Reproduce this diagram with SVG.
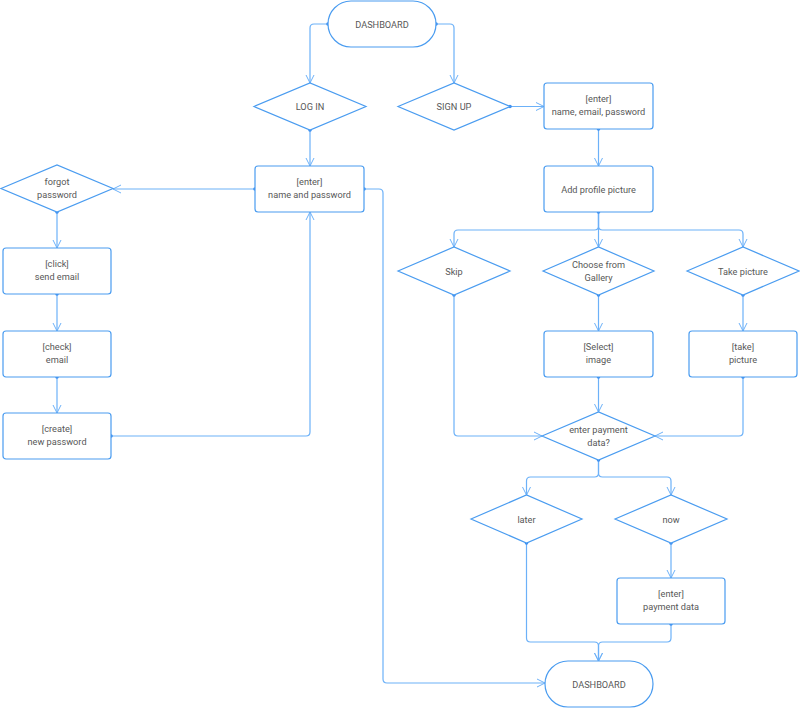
<svg xmlns="http://www.w3.org/2000/svg" width="800" height="708" viewBox="0 0 800 708">
<style>
.n{fill:#fff;stroke:#4a9cf0;stroke-width:1.2}
.t{font-family:Roboto,"Liberation Sans",sans-serif;font-size:9.2px;fill:#585858;text-anchor:middle}
.c{fill:none;stroke:#6cb1f8;stroke-width:1.2;marker-end:url(#a)}
.d{fill:#3d8ef0}
</style>
<defs>
<marker id="a" viewBox="0 0 10 10" refX="10" refY="5" markerWidth="10" markerHeight="10" markerUnits="userSpaceOnUse" orient="auto">
<path d="M2,1 L10,5 L2,9" fill="none" stroke="#6cb1f8" stroke-width="1"/>
</marker>
</defs>
<rect width="800" height="708" fill="#fff"/>
<g id="connectors">
<path class="c" d="M328,24 H314 Q310,24 310,28 V83"/>
<path class="c" d="M436,24 H450 Q454,24 454,28 V83"/>
<path class="c" d="M510,106.5 H544"/>
<path class="c" d="M310,130 V166"/>
<path class="c" d="M598.5,129 V166"/>
<path class="c" d="M255,189 H113"/>
<path class="c" d="M57,212 V248"/>
<path class="c" d="M57,294 V331"/>
<path class="c" d="M57,377 V413"/>
<path class="c" d="M111,436 H306 Q310,436 310,432 V212"/>
<path class="c" d="M364,189 H379 Q383,189 383,193 V679 Q383,683 387,683 H545"/>
<path class="c" d="M598.5,212 V247"/>
<path class="c" d="M598.5,212 V226 Q598.5,230 594.5,230 H458 Q454,230 454,234 V247"/>
<path class="c" d="M598.5,212 V226 Q598.5,230 602.5,230 H739 Q743,230 743,234 V247"/>
<path class="c" d="M598.5,295 V331"/>
<path class="c" d="M743,295 V331"/>
<path class="c" d="M598.5,377 V412"/>
<path class="c" d="M454,295 V432 Q454,436 458,436 H542"/>
<path class="c" d="M743,377 V432 Q743,436 739,436 H655"/>
<path class="c" d="M598.5,460 V473 Q598.5,477 594.5,477 H530.5 Q526.5,477 526.5,481 V495"/>
<path class="c" d="M598.5,460 V473 Q598.5,477 602.5,477 H667 Q671,477 671,481 V495"/>
<path class="c" d="M671,543 V578"/>
<path class="c" d="M526.5,543 V638 Q526.5,642 530.5,642 H594.5 Q598.5,642 598.5,646 V661"/>
<path class="c" d="M671,624 V638 Q671,642 667,642 H602.5 Q598.5,642 598.5,646 V661"/>
<g>
<circle class="d" cx="328" cy="24" r="1.8"/><circle class="d" cx="436" cy="24" r="1.8"/>
<circle class="d" cx="510" cy="106.5" r="1.8"/><circle class="d" cx="310" cy="130" r="1.8"/>
<circle class="d" cx="598.5" cy="129" r="1.8"/><circle class="d" cx="255" cy="189" r="1.8"/>
<circle class="d" cx="57" cy="212" r="1.8"/><circle class="d" cx="57" cy="294" r="1.8"/>
<circle class="d" cx="57" cy="377" r="1.8"/><circle class="d" cx="111" cy="436" r="1.8"/>
<circle class="d" cx="364" cy="189" r="1.8"/><circle class="d" cx="598.5" cy="212" r="1.8"/>
<circle class="d" cx="598.5" cy="295" r="1.8"/><circle class="d" cx="743" cy="295" r="1.8"/>
<circle class="d" cx="598.5" cy="377" r="1.8"/><circle class="d" cx="454" cy="295" r="1.8"/>
<circle class="d" cx="743" cy="377" r="1.8"/><circle class="d" cx="598.5" cy="460" r="1.8"/>
<circle class="d" cx="671" cy="543" r="1.8"/><circle class="d" cx="526.5" cy="543" r="1.8"/>
<circle class="d" cx="671" cy="624" r="1.8"/>
</g>
</g>
<g id="dashboard-top"><rect class="n" x="328" y="1" width="108" height="46" rx="23"/><text class="t" x="382" y="27.5">DASHBOARD</text></g>
<g id="login"><path class="n" d="M254,106.5 L310,83 L366,106.5 L310,130 Z"/><text class="t" x="310" y="110">LOG IN</text></g>
<g id="signup"><path class="n" d="M398,106.5 L454,83 L510,106.5 L454,130 Z"/><text class="t" x="454" y="110">SIGN UP</text></g>
<g id="enter-signup"><rect class="n" x="544" y="83" width="109" height="46" rx="3"/><text class="t" x="598.5" y="102">[enter]</text><text class="t" x="598.5" y="115">name, email, password</text></g>
<g id="add-picture"><rect class="n" x="544" y="166" width="109" height="46" rx="3"/><text class="t" x="598.5" y="192.5">Add profile picture</text></g>
<g id="enter-login"><rect class="n" x="255" y="166" width="109" height="46" rx="3"/><text class="t" x="309.5" y="185">[enter]</text><text class="t" x="309.5" y="198">name and password</text></g>
<g id="forgot"><path class="n" d="M1,188.5 L57,165 L113,188.5 L57,212 Z"/><text class="t" x="57" y="185">forgot</text><text class="t" x="57" y="198">password</text></g>
<g id="send-email"><rect class="n" x="3" y="248" width="108" height="46" rx="3"/><text class="t" x="57" y="267">[click]</text><text class="t" x="57" y="280">send email</text></g>
<g id="check-email"><rect class="n" x="3" y="331" width="108" height="46" rx="3"/><text class="t" x="57" y="350">[check]</text><text class="t" x="57" y="363">email</text></g>
<g id="new-password"><rect class="n" x="3" y="413" width="108" height="46" rx="3"/><text class="t" x="57" y="432">[create]</text><text class="t" x="57" y="445">new password</text></g>
<g id="skip"><path class="n" d="M398,271 L454,247 L510,271 L454,295 Z"/><text class="t" x="454" y="274.5">Skip</text></g>
<g id="gallery"><path class="n" d="M543,271 L598.5,247 L654,271 L598.5,295 Z"/><text class="t" x="598.5" y="267.5">Choose from</text><text class="t" x="598.5" y="280.5">Gallery</text></g>
<g id="take"><path class="n" d="M687,271 L743,247 L799,271 L743,295 Z"/><text class="t" x="743" y="274.5">Take picture</text></g>
<g id="select-image"><rect class="n" x="544" y="331" width="109" height="46" rx="3"/><text class="t" x="598.5" y="350">[Select]</text><text class="t" x="598.5" y="363">image</text></g>
<g id="take-picture"><rect class="n" x="689" y="331" width="108" height="46" rx="3"/><text class="t" x="743" y="350">[take]</text><text class="t" x="743" y="363">picture</text></g>
<g id="payment"><path class="n" d="M542,436 L598.5,412 L655,436 L598.5,460 Z"/><text class="t" x="598.5" y="432.5">enter payment</text><text class="t" x="598.5" y="445.5">data?</text></g>
<g id="later"><path class="n" d="M471,519 L526.5,495 L582,519 L526.5,543 Z"/><text class="t" x="526.5" y="522.5">later</text></g>
<g id="now"><path class="n" d="M615,519 L671,495 L727,519 L671,543 Z"/><text class="t" x="671" y="522.5">now</text></g>
<g id="enter-payment"><rect class="n" x="617" y="578" width="108" height="46" rx="3"/><text class="t" x="671" y="597">[enter]</text><text class="t" x="671" y="610">payment data</text></g>
<g id="dashboard-bottom"><rect class="n" x="545" y="661" width="108" height="46" rx="23"/><text class="t" x="599" y="687.5">DASHBOARD</text></g>
</svg>
